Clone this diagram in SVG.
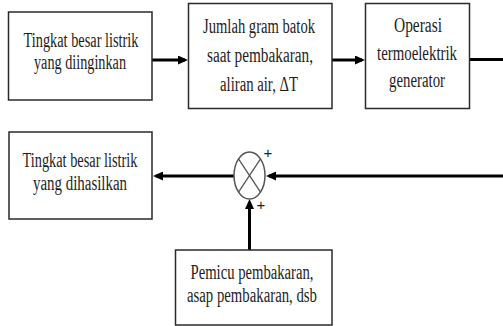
<svg xmlns="http://www.w3.org/2000/svg" width="503" height="326" viewBox="0 0 503 326">
  <defs>
    <style>
      .box { fill: #ffffff; stroke: #2a2a2a; stroke-width: 1.5; }
      .lbl { font-family: 'Liberation Serif', 'Times New Roman', serif; font-size: 20px; fill: #1e1e1e; text-anchor: middle; }
      .wire { fill: none; stroke: #000000; stroke-width: 3; }
      .sum { fill: #ffffff; stroke: #555555; stroke-width: 1.5; }
      .cross { stroke: #555555; stroke-width: 1.3; }
      .sign { font-family: 'Liberation Sans', Arial, sans-serif; font-size: 15px; fill: #222222; text-anchor: middle; }
    </style>
    <marker id="arrow" markerUnits="userSpaceOnUse" markerWidth="10" markerHeight="9" refX="7" refY="4.5" orient="auto">
      <path d="M0,0 L10,4.5 L0,9 Z" fill="#000000"/>
    </marker>
  </defs>
  <rect width="503" height="326" fill="#ffffff"/>

  <g id="connectors">
    <line class="wire" x1="152" y1="60" x2="185" y2="60" marker-end="url(#arrow)"/>
    <line class="wire" x1="332" y1="60" x2="362" y2="60" marker-end="url(#arrow)"/>
    <line class="wire" x1="470" y1="59.5" x2="503" y2="59.5"/>
    <line class="wire" x1="503" y1="176" x2="269" y2="176" marker-end="url(#arrow)"/>
    <line class="wire" x1="234" y1="176" x2="156" y2="176" marker-end="url(#arrow)"/>
    <line class="wire" x1="249.5" y1="250" x2="249.5" y2="202" marker-end="url(#arrow)"/>
  </g>

  <g id="node-desired">
    <rect class="box" x="8.5" y="12" width="143.5" height="88"/>
    <text class="lbl" x="81" y="47" textLength="115" lengthAdjust="spacingAndGlyphs">Tingkat besar listrik</text>
    <text class="lbl" x="80" y="69" textLength="92" lengthAdjust="spacingAndGlyphs">yang diinginkan</text>
  </g>

  <g id="node-inputs">
    <rect class="box" x="188.5" y="3.5" width="143.5" height="105"/>
    <text class="lbl" x="259" y="33" textLength="112" lengthAdjust="spacingAndGlyphs">Jumlah gram batok</text>
    <text class="lbl" x="260" y="62" textLength="106" lengthAdjust="spacingAndGlyphs">saat pembakaran,</text>
    <text class="lbl" x="259" y="91" textLength="78" lengthAdjust="spacingAndGlyphs">aliran air, ΔT</text>
  </g>

  <g id="node-teg">
    <rect class="box" x="365.5" y="3.5" width="104" height="105"/>
    <text class="lbl" x="418" y="32" textLength="48" lengthAdjust="spacingAndGlyphs">Operasi</text>
    <text class="lbl" x="417" y="60" textLength="80" lengthAdjust="spacingAndGlyphs">termoelektrik</text>
    <text class="lbl" x="417" y="87" textLength="56" lengthAdjust="spacingAndGlyphs">generator</text>
  </g>

  <g id="node-output">
    <rect class="box" x="9" y="132" width="143" height="87"/>
    <text class="lbl" x="80" y="167" textLength="115" lengthAdjust="spacingAndGlyphs">Tingkat besar listrik</text>
    <text class="lbl" x="80" y="190" textLength="94" lengthAdjust="spacingAndGlyphs">yang dihasilkan</text>
  </g>

  <g id="node-disturbance">
    <rect class="box" x="175.5" y="250" width="156.5" height="75"/>
    <text class="lbl" x="252" y="279" textLength="123" lengthAdjust="spacingAndGlyphs">Pemicu pembakaran,</text>
    <text class="lbl" x="252" y="302" textLength="130" lengthAdjust="spacingAndGlyphs">asap pembakaran, dsb</text>
  </g>

  <g id="node-summing">
    <ellipse class="sum" cx="249.5" cy="175.5" rx="15.5" ry="23.5"/>
    <line class="cross" x1="238.5" y1="158.9" x2="260.5" y2="192.1"/>
    <line class="cross" x1="260.5" y1="158.9" x2="238.5" y2="192.1"/>
    <text class="sign" x="268" y="158">+</text>
    <text class="sign" x="261" y="210">+</text>
  </g>
</svg>
